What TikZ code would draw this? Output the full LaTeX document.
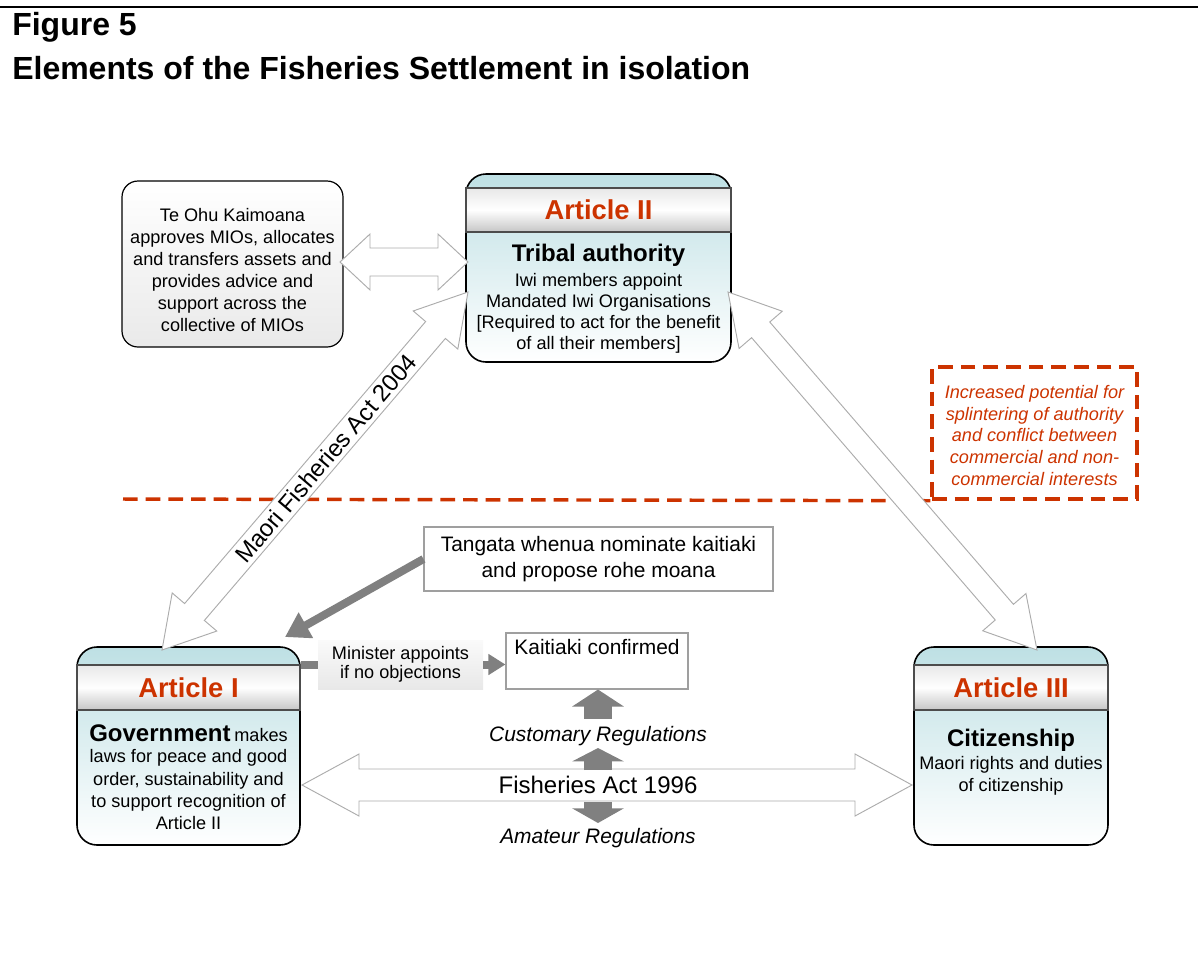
\documentclass[tikz,border=0pt]{standalone}
\usepackage{fontspec}
\setmainfont{Liberation Sans}
\usetikzlibrary{arrows.meta,calc,fit}
\definecolor{artred}{RGB}{204,51,0}
\definecolor{teal1}{RGB}{190,224,228}
\definecolor{arrgray}{RGB}{128,128,128}
\newcommand\blockdbl[5]{%
 \coordinate (bdP) at ($(#1)!#5!(#2)$);
 \coordinate (bdQ) at ($(#2)!#5!(#1)$);
 \draw[blockarrow] (#1) -- ($(bdP)!#4!90:(#2)$) -- ($(bdP)!#3!90:(#2)$) -- ($(bdQ)!#3!-90:(#1)$) -- ($(bdQ)!#4!-90:(#1)$) -- (#2) -- ($(bdQ)!#4!90:(#1)$) -- ($(bdQ)!#3!90:(#1)$) -- ($(bdP)!#3!-90:(#2)$) -- ($(bdP)!#4!-90:(#2)$) -- cycle;}
\tikzset{
 txt/.style={inner sep=0, align=center, font=\fontsize{13.6}{16.5}\selectfont},
 big/.style={inner sep=0, align=center, font=\fontsize{15.7}{19.5}\selectfont},
 hd/.style={inner sep=0, font=\fontsize{18}{22}\selectfont\bfseries},
 art/.style={inner sep=0, font=\fontsize{20.5}{24}\selectfont\bfseries, text=artred},
 artbox/.style={draw=black, line width=1.2pt, rounded corners=15pt, top color=teal1, bottom color=white, inner sep=0},
 hdrbox/.style={draw=gray!60!black, line width=0.8pt, top color=gray!18, bottom color=gray!45, middle color=white, inner sep=0},
 plainbox/.style={draw=gray!75, line width=0.8pt, fill=white, inner sep=0},
 grayarrow/.style={draw=arrgray, line width=6pt},
 blockarrow/.style={draw=gray!65, line width=0.7pt, fill=white, line join=miter},
 redash/.style={draw=artred, line width=2.6pt, dash pattern=on 11pt off 6pt},
}
\begin{document}
\begin{tikzpicture}[x=0.75pt,y=-0.75pt]
\useasboundingbox (0,0) rectangle (1198,954);
% title
\draw[line width=2pt] (0,7) -- (1198,7);
\node[anchor=base west, inner sep=0, font=\fontsize{24}{28}\selectfont\bfseries] (fig) at (12,35) {Figure 5};
\node[anchor=base west, inner sep=0, font=\fontsize{24}{28}\selectfont\bfseries] (ttl) at (12,79) {Elements of the Fisheries Settlement in isolation};

% dashed separation
\node[redash, inner sep=0, fit={(932,367)(1137,499)}] (warn) {};
\draw[redash] (123,499) -- (warn.south west);
\node[txt, text=artred, font=\fontsize{13.6}{16.3}\selectfont\itshape] at (1034.5,435.5) {Increased potential for\\splintering of authority\\and conflict between\\commercial and non-\\commercial interests};

% Te Ohu Kaimoana
\node[draw=black, line width=0.9pt, rounded corners=12pt, top color=white, bottom color=gray!17, inner sep=0, fit={(122,181)(343,347)}] (tohu) {};
\node[txt] at (232.5,270) {Te Ohu Kaimoana\\approves MIOs, allocates\\and transfers assets and\\provides advice and\\support across the\\collective of MIOs};

% Article II
\node[artbox, fit={(466,174)(731,362)}] (a2) {};
\node[hdrbox, fit={(466,188)(731,232)}] (a2h) {};
\node[art] at (a2h) {Article II};
\node[hd] at (598.5,255) {Tribal authority};
\node[txt, font=\fontsize{13.6}{15.75}\selectfont] at (598.5,313.5) {Iwi members appoint\\Mandated Iwi Organisations\\{[}Required to act for the benefit\\of all their members{]}};

% Article I
\node[artbox, fit={(77,647)(300,845)}] (a1) {};
\node[hdrbox, fit={(77,665)(300,710)}] (a1h) {};
\node[art] at (a1h) {Article I};
\node[inner sep=0] at (188.5,733) {{\fontsize{18}{22}\selectfont\bfseries Government} {\fontsize{13.6}{16}\selectfont makes}};
\node[txt, font=\fontsize{13.6}{16.75}\selectfont] at (188.5,790) {laws for peace and good\\order, sustainability and\\to support recognition of\\Article II};

% Article III
\node[artbox, fit={(914,647)(1108,845)}] (a3) {};
\node[hdrbox, fit={(914,665)(1108,710)}] (a3h) {};
\node[art] at (a3h) {Article III};
\node[hd] at (1011,740) {Citizenship};
\node[txt] at (1011,776) {Maori rights and duties\\of citizenship};

% Tangata whenua
\node[plainbox, fit={(424,527)(773,591)}] (tang) {};
\node[big] at (tang) {Tangata whenua nominate kaitiaki\\and propose rohe moana};

% Kaitiaki confirmed
\node[plainbox, fit={(506,633)(688,689)}] (kait) {};
\node[big] at (597,647) {Kaitiaki confirmed};

% Minister
\node[top color=gray!4, bottom color=gray!18, inner sep=0, fit={(318,640)(483,689)}] (mini) {};
\node[txt, font=\fontsize{13.6}{14.25}\selectfont] at (mini) {Minister appoints\\if no objections};

% block double arrows
\coordinate (t1) at (340,262); \coordinate (t2) at (468,262);
\blockdbl{t1}{t2}{10.5pt}{21pt}{22.5pt}
\coordinate (m1) at (162,650); \coordinate (m2) at (468,292);
\blockdbl{m1}{m2}{9.75pt}{22pt}{37.5pt}
\node[rotate=49.5, inner sep=0, font=\fontsize{18}{22}\selectfont] at ($(m1)!0.535!(m2)$) {Maori Fisheries Act 2004};
\coordinate (r1) at (728,292); \coordinate (r2) at (1037,650);
\blockdbl{r1}{r2}{9pt}{21.4pt}{37.5pt}
\coordinate (h1) at (302,785); \coordinate (h2) at (912,785);
\blockdbl{h1}{h2}{12pt}{23.25pt}{42.75pt}

% regulation labels
\node[inner sep=0, font=\fontsize{15.7}{19}\selectfont\itshape] (cust) at (598,736) {Customary Regulations};
\node[inner sep=0, font=\fontsize{18}{22}\selectfont] (fa) at (598,785) {Fisheries Act 1996};
\node[inner sep=0, font=\fontsize{15.7}{19}\selectfont\itshape] (amat) at (598,838) {Amateur Regulations};

% gray arrows
\coordinate (a1in) at (285,637);
\draw[grayarrow, -{Triangle[length=18pt,width=21pt]}] (tang.west) -- (a1in);
\draw[grayarrow] (a1.east |- mini.west) -- (mini.west);
\draw[grayarrow, -{Triangle[length=12.75pt,width=15pt]}] (mini.east) -- (kait.west |- mini.east);
\draw[arrgray, line width=21pt, -{Triangle[length=12.75pt,width=38.25pt]}] ($(kait.south)+(1,29)$) -- ($(kait.south)+(1,0)$);
\coordinate (u2s) at (598,770); \coordinate (u2t) at (598,748);
\draw[arrgray, line width=21pt, -{Triangle[length=10pt,width=38.25pt]}] (u2s) -- (u2t);
\coordinate (d2s) at (598,802); \coordinate (d2t) at (598,823);
\draw[arrgray, line width=21pt, -{Triangle[length=11pt,width=38.25pt]}] (d2s) -- (d2t);
\end{tikzpicture}
\end{document}
